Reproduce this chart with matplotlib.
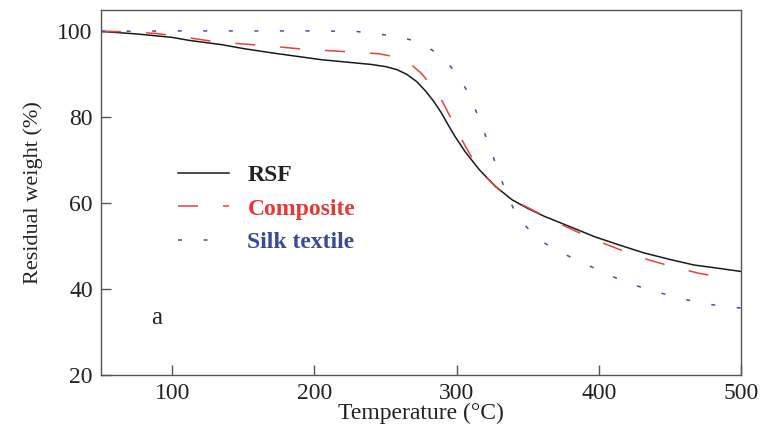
import matplotlib
matplotlib.use('Agg')
import matplotlib.pyplot as plt

# TGA curves
rsf_temp = [50, 75, 100, 112, 135, 150, 170, 205, 240, 250, 258, 265, 272, 278, 284, 289, 294,
            299, 306, 316, 327, 339, 350, 362, 380, 397, 415, 432, 450, 467, 485, 500]
rsf_weight = [100, 99.4, 98.6, 97.9, 96.9, 96.0, 95.0, 93.4, 92.3, 91.8, 91.1, 90.0, 88.3, 86.2, 83.7, 81.2, 78.3,
              75.5, 72.0, 67.8, 64.0, 60.8, 58.8, 56.9, 54.5, 52.2, 50.2, 48.4, 46.9, 45.6, 44.8, 44.1]

comp_temp = [50, 70, 89, 110, 128, 145, 164, 191, 226, 245, 255, 262, 268, 275, 283, 290,
             299, 306, 313, 321, 330, 339, 350, 367, 383, 400, 417, 435, 452, 470, 482]
comp_weight = [100, 99.9, 99.5, 98.6, 97.7, 97.2, 96.7, 95.9, 95.2, 94.8, 94.2, 93.4, 92.3, 90.3, 87.2, 83.7,
               77.9, 73.4, 69.3, 66.0, 63.1, 60.8, 59.0, 56.1, 53.6, 51.1, 48.9, 46.8, 45.2, 43.7, 43.0]

silk_temp = [50, 100, 150, 200, 229, 247, 258, 268, 277, 286, 294, 302, 310, 317, 323,
             329, 335, 343, 350, 358, 368, 378, 398, 418, 432, 452, 472, 493, 500]
silk_weight = [100, 100.1, 100.1, 100.1, 100, 99.3, 98.8, 98.0, 96.8, 95.0, 92.5, 89.5, 84.4, 78.8, 73.4,
               67.8, 62.3, 56.7, 54.2, 51.5, 49.5, 47.8, 44.7, 41.7, 40.2, 38.3, 36.7, 35.8, 35.6]

x_ticks = [100, 200, 300, 400, 500]
y_ticks = [20, 40, 60, 80, 100]

plt.rcParams['font.family'] = ['Liberation Serif', 'DejaVu Serif']
plt.rcParams['lines.scale_dashes'] = False

fig = plt.figure(figsize=(7.67, 4.30), dpi=100)
ax = fig.add_axes([0.1317, 0.128, 0.8343, 0.849])

ax.plot(rsf_temp, rsf_weight, color='#1a1a1a', lw=1.1, label='RSF')
ax.plot(comp_temp, comp_weight, color='#e8403e', lw=1.1, dashes=(14.4, 18), label='Composite')
ax.plot(silk_temp, silk_weight, color='#4050a0', lw=1.1, dashes=(2.9, 15.5), label='Silk textile')

ax.set_xlim(50, 500)
ax.set_ylim(20, 105)
ax.set_xticks(x_ticks)
ax.set_yticks(y_ticks)

for s in ax.spines.values():
    s.set_color('#555555')
    s.set_linewidth(1.0)
ax.tick_params(direction='in', length=7, width=1.0, color='#555555',
               labelsize=17, pad=6, labelcolor='#222222')

ax.set_xlabel('Temperature (°C)', fontsize=17, color='#222222', labelpad=-1)
ax.set_ylabel('Residual weight (%)', fontsize=16, color='#222222', labelpad=10)

ax.text(89, 33.3, 'a', fontsize=18, ha='center', va='center', color='#222222')

leg = ax.legend(loc='upper left', bbox_to_anchor=(0.0875, 0.634), frameon=False,
                prop={'size': 17, 'weight': 'bold'}, handlelength=2.15,
                handletextpad=0.78, labelspacing=0.5,
                labelcolor=['#222222', '#e53935', '#3a4a9a'])

fig.savefig('out.png', dpi=100)
